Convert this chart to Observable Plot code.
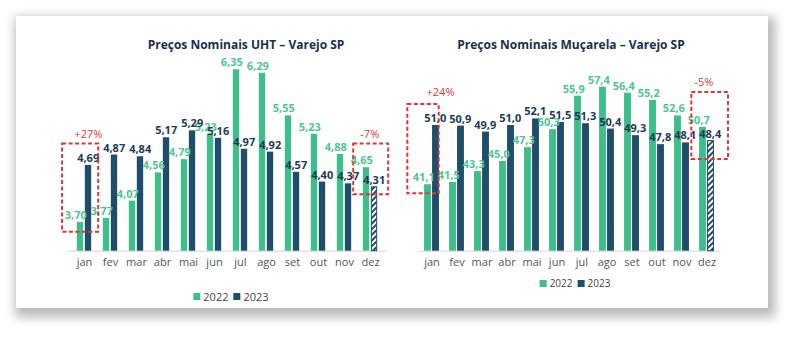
<!DOCTYPE html>
<html><head><meta charset="utf-8">
<script src="https://cdn.jsdelivr.net/npm/d3@7"></script>
<script src="https://cdn.jsdelivr.net/npm/@observablehq/plot@0.6"></script>
<style>
html,body{margin:0;padding:0;background:#fff;width:800px;height:341px;overflow:hidden;font-family:"Open Sans",sans-serif;}
#card{position:absolute;left:16px;top:16px;width:752px;height:292px;background:#fff;box-shadow:3px 5px 10px 4px rgba(0,0,0,0.28);}
.panel{position:absolute;top:0;}
.title{position:absolute;top:36px;font-weight:700;font-size:12px;color:#1b2f4b;white-space:nowrap;transform:translateX(-50%);}
.legend{position:absolute;font-size:11px;color:#444;white-space:nowrap;transform:translateX(-50%);display:flex;align-items:center;gap:3px;}
.sw{display:inline-block;width:7px;height:7px;}
</style></head>
<body>
<div id="card"></div>
<div id="left" class="panel" style="left:0"></div>
<div id="right" class="panel" style="left:400px"></div>
<div class="title" style="left:246px">Preços Nominais UHT – Varejo SP</div>
<div class="title" style="left:571px">Preços Nominais Muçarela – Varejo SP</div>
<div class="legend" style="left:231px;top:289px"><span class="sw" style="background:#3dbe8a"></span>2022 <span class="sw" style="background:#1f4d6b;margin-left:2px"></span>2023</div>
<div class="legend" style="left:575px;top:276px;font-size:10px"><span class="sw" style="background:#3dbe8a"></span>2022 <span class="sw" style="background:#1f4d6b;margin-left:2px"></span>2023</div>
<script>
const months = ["jan","fev","mar","abr","mai","jun","jul","ago","set","out","nov","dez"];
const years = ["2022","2023"];
const uht2022 = [3.70,3.77,4.07,4.56,4.79,5.23,6.35,6.29,5.55,5.23,4.88,4.65];
const uht2023 = [4.69,4.87,4.84,5.17,5.29,5.16,4.97,4.92,4.57,4.40,4.37,4.31];
const mus2022 = [41.1,41.5,43.3,45.0,47.3,50.3,55.9,57.4,56.4,55.2,52.6,50.7];
const mus2023 = [51.0,50.9,49.9,51.0,52.1,51.5,51.3,50.4,49.3,47.8,48.1,48.4];
const uhtNotes = [{month:"jan",lo:3.53,hi:5.06,label:"+27%"},{month:"dez",lo:4.18,hi:5.06,label:"-7%"}];
const musNotes = [{month:"jan",lo:39.6,hi:54.5,label:"+24%"},{month:"dez",lo:45.3,hi:56.5,label:"-5%"}];

const GREEN = "#3dbe8a", NAVY = "#1f4d6b", RED = "#d9393a";

function build(a2022, a2023, notes, cfg) {
  const rows = [];
  months.forEach((m,i) => {
    rows.push({month:m, year:"2022", value:a2022[i], hatch:false});
    rows.push({month:m, year:"2023", value:a2023[i], hatch: m === "dez"});
  });
  const r22 = rows.filter(d => d.year === "2022");
  const r23 = rows.filter(d => d.year === "2023" && !d.hatch);
  const r23h = rows.filter(d => d.year === "2023" && d.hatch);
  const r23all = rows.filter(d => d.year === "2023");
  const bw = cfg.step, half = bw/2, barW = 7;
  const fmt = d3.format(cfg.fmt);
  const lbl = d => fmt(d.value).replace(".", ",");
  const base = cfg.domain[0];
  const chart = Plot.plot({
    width: 400, height: 341,
    marginLeft: cfg.ml, marginRight: cfg.mr, marginTop: cfg.mt, marginBottom: 90.3,
    x: {domain: months, padding: 0, label: null, tickSize: 0, tickPadding: 7},
    y: {domain: cfg.domain, axis: null},
    style: {fontFamily: "Open Sans, sans-serif", fontSize: "11px", color: "#555", background: "transparent", overflow: "visible"},
    marks: [
      Plot.ruleY([base], {stroke: "#e3e3e3", strokeWidth: 1.5}),
      Plot.barY(r22, {x: "month", y1: base, y2: "value", fill: GREEN, insetLeft: half - barW - 0.5, insetRight: half + 0.5}),
      Plot.barY(r23, {x: "month", y1: base, y2: "value", fill: NAVY, insetLeft: half + 0.5, insetRight: half - barW - 0.5}),
      Plot.barY(r23h, {x: "month", y1: base, y2: "value", fill: "url(#hatch)", stroke: NAVY, strokeWidth: 1, insetLeft: half + 1, insetRight: half - barW}),
      Plot.text(r22, {x: "month", y: "value", text: lbl, dx: -half/2 - 2, dy: -7, fill: "#4fc594", fontWeight: 700, fontSize: cfg.fs}),
      Plot.text(r23all, {x: "month", y: "value", text: lbl, dx: half/2 - 3, dy: -7, fill: "#1d3a55", fontWeight: 700, fontSize: cfg.fs}),
      ...notes.map((n,k) => Plot.rect([n], {x: "month", y1: "lo", y2: "hi", fill: "none", stroke: RED, strokeWidth: 2, strokeDasharray: "4,2.5", insetLeft: cfg.insets[k][0], insetRight: cfg.insets[k][1]})),
      ...notes.map((n,k) => Plot.text([n], {x: "month", y: "hi", text: "label", dy: cfg.pdy[k], dx: (cfg.insets[k][1]-cfg.insets[k][0])/2, fill: RED, fontSize: 11}))
    ]
  });
  return chart;
}

const left = build(uht2022, uht2023, uhtNotes, {step: 26.66, ml: 67.2, mr: 13.7, mt: 69.3, domain: [3.2, 6.35], fmt: ".2f", fs: 11, insets: [[-8.9,-1.2],[-3.8,-5.2]], pdy: [-10,-10]});
const right = build(mus2022, mus2023, musNotes, {step: 25.14, ml: 18.4, mr: 79.9, mt: 86.7, domain: [30, 57.4], fmt: ".1f", fs: 11, insets: [[-11.7,5.3],[-2.7,-9]], pdy: [-12,-10]});

function addHatch(svg, id) {
  const ns = "http://www.w3.org/2000/svg";
  const defs = document.createElementNS(ns, "defs");
  defs.innerHTML = `<pattern id="${id}" patternUnits="userSpaceOnUse" width="4" height="4" patternTransform="rotate(45)"><rect width="4" height="4" fill="#fff"/><rect width="2" height="4" fill="${NAVY}"/></pattern>`;
  svg.insertBefore(defs, svg.firstChild);
}
addHatch(left, "hatch");
document.getElementById("left").appendChild(left);
addHatch(right, "hatch2");
right.querySelectorAll('[fill="url(#hatch)"]').forEach(e => e.setAttribute("fill", "url(#hatch2)"));
document.getElementById("right").appendChild(right);
</script>
</body></html>
